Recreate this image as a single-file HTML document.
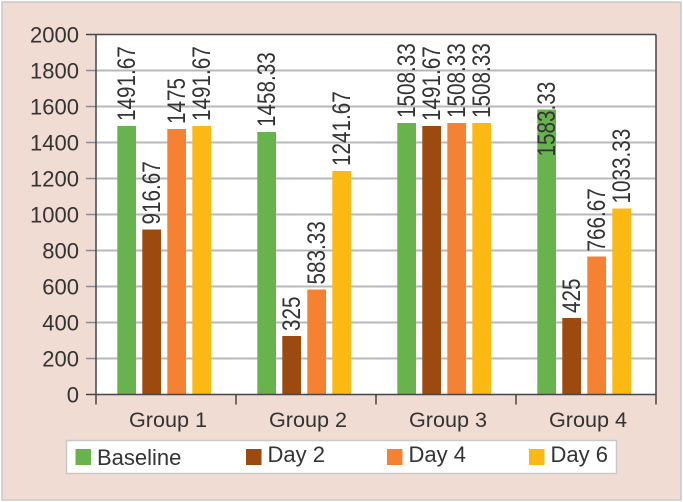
<!DOCTYPE html>
<html lang="en">
<head>
<meta charset="utf-8">
<title>Group values by day</title>
<style>
html,body{margin:0;padding:0;background:#fff}
body{width:683px;height:502px;overflow:hidden}
svg{display:block}
text{font-family:"Liberation Sans",Arial,sans-serif;fill:#333}
</style>
</head>
<body>
<svg id="chart" xmlns="http://www.w3.org/2000/svg" width="683" height="502" viewBox="0 0 683 502">
<rect x="2" y="2" width="679" height="498" fill="#f0dcd3" stroke="#c9c9c9" stroke-width="1.5"/>
<rect x="96" y="34.5" width="560" height="360" fill="#fff"/>
<g id="grid"></g>
<g id="bars"></g>
<g id="axes"></g>
<g id="labels"></g>
<g id="legend"></g>
</svg>
<script>
const categories = ["Group 1", "Group 2", "Group 3", "Group 4"];
const seriesNames = ["Baseline", "Day 2", "Day 4", "Day 6"];
const baseline = [1491.67, 1458.33, 1508.33, 1583.33];
const day2 = [916.67, 325, 1491.67, 425];
const day4 = [1475, 583.33, 1508.33, 766.67];
const day6 = [1491.67, 1241.67, 1508.33, 1033.33];
const yTicks = [0, 200, 400, 600, 800, 1000, 1200, 1400, 1600, 1800, 2000];
const seriesColors = ["#69b34f", "#9c4a10", "#f58233", "#fdb913"];

const allSeries = [baseline, day2, day4, day6];
const NS = "http://www.w3.org/2000/svg";
const plot = {left: 96, right: 656, top: 34.5, bottom: 394.5};
const yMax = 2000;
const bandW = (plot.right - plot.left) / categories.length;
const barW = 18.7, barStep = 25, bandPad = 21.3;

function yScale(v) { return plot.bottom - (v / yMax) * (plot.bottom - plot.top); }
function bandX(i) { return plot.left + i * bandW; }
function barX(i, s) { return bandX(i) + bandPad + s * barStep; }
function make(tag, attrs, parent, txt) {
  const el = document.createElementNS(NS, tag);
  for (const k in attrs) el.setAttribute(k, attrs[k]);
  if (txt !== undefined) el.textContent = txt;
  parent.appendChild(el);
  return el;
}
const gGrid = document.getElementById("grid");
const gBars = document.getElementById("bars");
const gAxes = document.getElementById("axes");
const gLabels = document.getElementById("labels");
const gLegend = document.getElementById("legend");
const axisColor = "#45454a";

yTicks.forEach(function (t) {
  const y = yScale(t);
  if (t > 0 && t < yMax) {
    const g = make("line", {x1: plot.left, x2: plot.right, y1: y, y2: y, stroke: "#b8b8bc", "stroke-width": 2}, gGrid);
    
    
  }
  const tk = make("line", {x1: plot.left - 10, x2: plot.left, y1: y, y2: y, stroke: t === 0 || t === yMax ? axisColor : "#8a8a8e", "stroke-width": 1.5}, gAxes);
  
  
  const lb = make("text", {x: 79, y: y + 8, "text-anchor": "end", "font-size": 22}, gAxes, String(t));
  
  
});

categories.forEach(function (c, i) {
  allSeries.forEach(function (vals, s) {
    const v = vals[i];
    const top = yScale(v);
    const x = barX(i, s);
    const r = make("rect", {x: x, y: top, width: barW, height: plot.bottom - top, fill: seriesColors[s]}, gBars);
    
    
    const shift = v > 1550 ? -47 : 5;
    const lx = x + barW / 2 + 8.5;
    const ly = top - shift;
    const t = make("text", {"font-size": 21, transform: "translate(" + lx + " " + ly + ") rotate(-90) scale(0.985 1.2)"}, gLabels, String(v));
    
    
  });
  const cat = make("text", {x: bandX(i) + bandW / 2 + 2, y: 427, "text-anchor": "middle", "font-size": 21.6}, gAxes, c);
  
  
});

for (let i = 0; i <= categories.length; i++) {
  const x = bandX(i);
  const tk = make("line", {x1: x, x2: x, y1: plot.bottom, y2: plot.bottom + 10, stroke: axisColor, "stroke-width": 1.5}, gAxes);
  
  
}
const frame = [
  [plot.left, plot.top, plot.right, plot.top],
  [plot.left, plot.top, plot.left, plot.bottom],
  [plot.right, plot.top, plot.right, plot.bottom],
  [plot.left, plot.bottom, plot.right, plot.bottom]
];
frame.forEach(function (f) {
  const l = make("line", {x1: f[0], y1: f[1], x2: f[2], y2: f[3], stroke: axisColor, "stroke-width": 1.5}, gAxes);
  
  
});

const box = make("rect", {x: 66.5, y: 440.5, width: 550, height: 33, fill: "#fff", stroke: "#c9c9c9", "stroke-width": 1.5}, gLegend);


const legendSwatchX = [75.5, 246, 387, 529];
const legendBase = [465, 462, 462, 462];
seriesNames.forEach(function (n, s) {
  const sw = make("rect", {x: legendSwatchX[s], y: 449, width: 15.5, height: 16, fill: seriesColors[s]}, gLegend);
  
  
  const t = make("text", {x: legendSwatchX[s] + 21.5, y: legendBase[s], "font-size": 22}, gLegend, n);
  
  
});
</script>
</body>
</html>
